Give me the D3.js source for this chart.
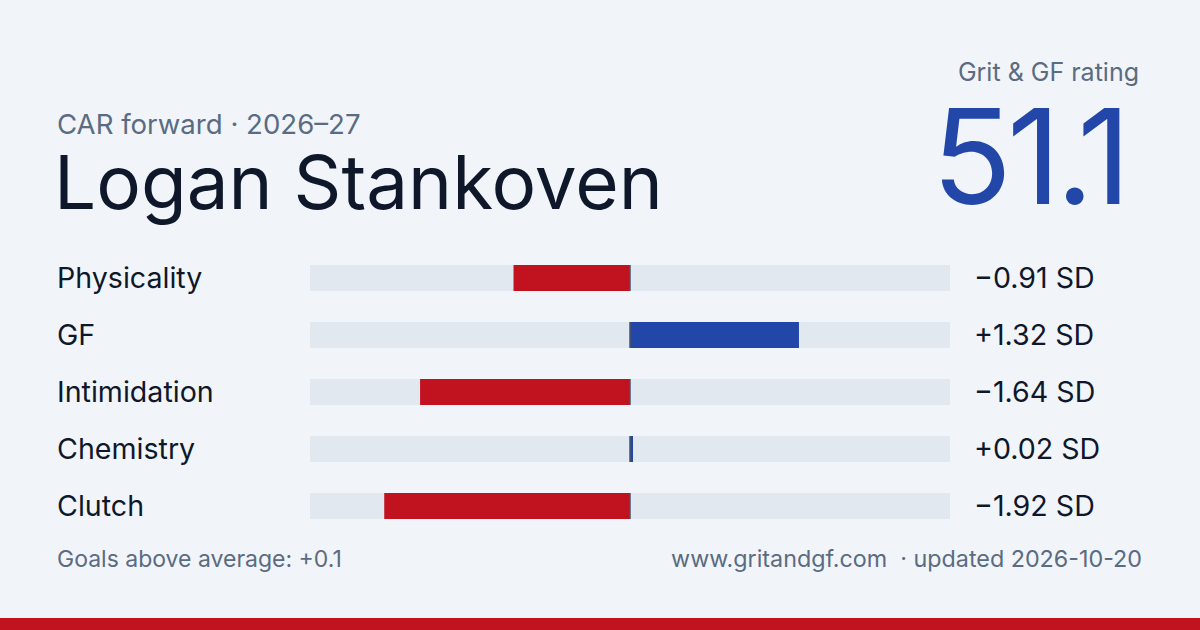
<!DOCTYPE html>
<html lang="en">
<head>
<meta charset="UTF-8">
<title>Grit & GF card</title>
<script src="https://cdnjs.cloudflare.com/ajax/libs/d3/7.8.5/d3.min.js"></script>
<style>
  body { margin: 0; background: #f1f5f9; }
  svg { display: block; font-family: Inter, "Noto Sans", sans-serif; }
</style>
</head>
<body>
<div id="card"></div>
<script>
// data
var metrics = ['Physicality', 'GF', 'Intimidation', 'Chemistry', 'Clutch'];
var sdValues = [-0.91, 1.32, -1.64, 0.02, -1.92];
var sdLabels = ['\u22120.91 SD', '+1.32 SD', '\u22121.64 SD', '+0.02 SD', '\u22121.92 SD'];
var playerName = 'Logan Stankoven';
var subtitle = 'CAR forward \u00b7 2026\u201327';
var rating = '51.1';
var ratingLabel = 'Grit & GF rating';
var goalsNote = 'Goals above average: +0.1';
var siteNote = 'www.gritandgf.com';
var updatedNote = '\u00b7 updated 2026-10-20';

var w = 1200, h = 630,
    red = '#c1121f', blue = '#2347a8', track = '#e2e8f0',
    ink = '#0f172a', muted = '#5a6b82';

var svg = d3.select('#card').append('svg')
    .attr('width', w).attr('height', h);

svg.append('rect').attr('width', w).attr('height', h).attr('fill', '#f1f5f9');

// header
svg.append('text').attr('x', 57).attr('y', 134)
    .attr('font-size', 27.6).attr('fill', muted).text(subtitle);
svg.append('text').attr('x', 54).attr('y', 209)
    .attr('font-size', 74.6).attr('fill', ink).text(playerName);
svg.append('text').attr('x', 1139).attr('y', 81).attr('text-anchor', 'end')
    .attr('font-size', 25).attr('fill', muted).text(ratingLabel);
svg.append('text').attr('x', 1126).attr('y', 204).attr('text-anchor', 'end')
    .attr('font-size', 132).attr('fill', blue).attr('letter-spacing', -5).text(rating);

// bars: row step 57, bar height 26
var x = d3.scaleLinear().domain([-2.5, 2.5]).range([310, 950]);
var y = d3.scaleBand().domain(metrics).range([265, 519]).paddingInner(31 / 57).paddingOuter(0);
var bh = y.bandwidth();

var rows = svg.selectAll('g.row')
    .data(metrics.map((m, i) => ({ name: m, v: sdValues[i], label: sdLabels[i] })))
    .enter().append('g').attr('class', 'row');

rows.append('rect')
    .attr('x', x(-2.5)).attr('y', d => y(d.name))
    .attr('width', x(2.5) - x(-2.5)).attr('height', bh)
    .attr('fill', track);

rows.append('rect')
    .attr('x', d => Math.min(x(0), x(d.v)))
    .attr('y', d => y(d.name))
    .attr('width', d => Math.max(3, Math.abs(x(d.v) - x(0))))
    .attr('height', bh)
    .attr('fill', d => d.v < 0 ? red : blue);

rows.append('rect')
    .attr('x', x(0) - 0.75).attr('y', d => y(d.name))
    .attr('width', 1.5).attr('height', bh)
    .attr('fill', '#475569');

rows.append('text')
    .attr('x', 57).attr('y', d => y(d.name) + 23)
    .attr('font-size', 28.6).attr('fill', ink).text(d => d.name);

rows.append('text')
    .attr('x', 974).attr('y', d => y(d.name) + 23)
    .attr('font-size', 28.6).attr('fill', ink).text(d => d.label);

// footer
svg.append('text').attr('x', 57).attr('y', 567)
    .attr('font-size', 23).attr('fill', muted).text(goalsNote);
svg.append('text').attr('x', 1142).attr('y', 567).attr('text-anchor', 'end')
    .attr('font-size', 23.3).attr('fill', muted).attr('xml:space', 'preserve')
    .text(siteNote + '  ' + updatedNote);

svg.append('rect').attr('x', 0).attr('y', 618).attr('width', w).attr('height', 12).attr('fill', red);
</script>
</body>
</html>
